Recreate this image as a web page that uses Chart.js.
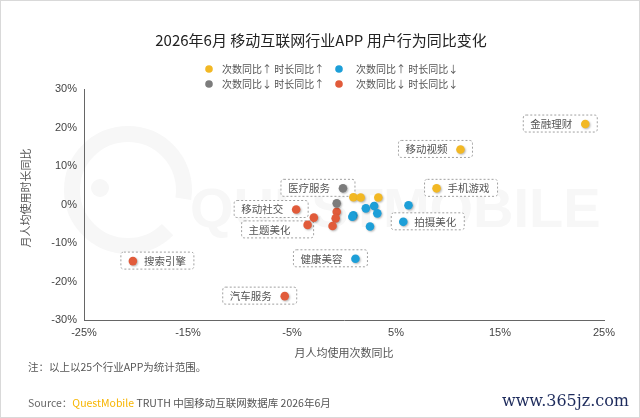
<!DOCTYPE html>
<html>
<head>
<meta charset="utf-8">
<script src="https://cdn.jsdelivr.net/npm/chart.js@4.4.1/dist/chart.umd.min.js"></script>
<style>
  html, body { margin: 0; padding: 0; background: #fff; }
  #wrap { position: relative; width: 640px; height: 418px; }
  canvas { display: block; }
</style>
</head>
<body>
<div id="wrap"><canvas id="c" width="640" height="418"></canvas></div>
<script>
// industry names, YoY change of monthly sessions per user (x) and time per user (y), in %
const names = ['金融理财', '移动视频', '手机游戏', '', '', '',
  '医疗服务', '',
  '', '', '', '', '主题美化', '移动社交', '搜索引擎', '汽车服务',
  '健康美容', '拍摄美化', '', '', '', '', '', '', ''];
const xValues = [23.2, 11.2, 8.9, 0.9, 1.6, 3.3,
  -0.1, -0.7,
  -0.7, -0.8, -1.1, -2.9, -3.5, -4.6, -20.3, -5.7,
  1.1, 5.7, 6.2, 2.1, 2.9, 3.2, 2.5, 0.9, 0.8];
const yValues = [20.9, 14.3, 4.2, 1.9, 1.8, 1.8,
  4.2, 0.3,
  -1.9, -3.6, -5.6, -3.4, -5.3, -1.3, -14.7, -23.8,
  -14.1, -4.5, -0.2, -1.0, -0.4, -2.3, -5.7, -2.8, -3.2];
// 0: 次↑时↑, 1: 次↑时↓, 2: 次↓时↑, 3: 次↓时↓
const groups = [0, 0, 0, 0, 0, 0,
  2, 2,
  3, 3, 3, 3, 3, 3, 3, 3,
  1, 1, 1, 1, 1, 1, 1, 1, 1];
const groupLabels = ['次数同比↑ 时长同比↑', '次数同比↑ 时长同比↓', '次数同比↓ 时长同比↑', '次数同比↓ 时长同比↓'];
const xTicks = [-25, -15, -5, 5, 15, 25];
const yTicks = [-30, -20, -10, 0, 10, 20, 30];

const colors = ['#F2B824', '#1D9FD8', '#7C7C7C', '#E15B3A'];
const CJK = "'Noto Sans CJK SC', 'Noto Sans', sans-serif";

// where the dashed name box sits relative to its dot
const calloutSide = {
  '金融理财': 'textLeft', '移动视频': 'textLeft', '医疗服务': 'textLeft', '移动社交': 'textLeft',
  '汽车服务': 'textLeft', '健康美容': 'textLeft', '主题美化': 'textLeftLow',
  '手机游戏': 'dotLeft', '拍摄美化': 'dotLeft', '搜索引擎': 'dotLeft'
};

const datasets = groupLabels.map((lab, g) => ({
  label: lab,
  data: names.map((n, i) => ({ x: xValues[i], y: yValues[i], name: n, g: groups[i] }))
    .filter(p => p.g === g),
  backgroundColor: colors[g],
  borderWidth: 0,
  pointRadius: 4.3,
  pointHoverRadius: 4.3
}));

function roundBox(ctx, l, t, w, h, r) {
  ctx.beginPath();
  ctx.moveTo(l + r, t);
  ctx.lineTo(l + w - r, t);
  ctx.quadraticCurveTo(l + w, t, l + w, t + r);
  ctx.lineTo(l + w, t + h - r);
  ctx.quadraticCurveTo(l + w, t + h, l + w - r, t + h);
  ctx.lineTo(l + r, t + h);
  ctx.quadraticCurveTo(l, t + h, l, t + h - r);
  ctx.lineTo(l, t + r);
  ctx.quadraticCurveTo(l, t, l + r, t);
  ctx.closePath();
}

const decor = {
  id: 'decor',
  beforeDraw(chart) {
    const ctx = chart.ctx;
    ctx.save();
    ctx.fillStyle = '#fff';
    ctx.fillRect(0, 0, 640, 418);
    ctx.strokeStyle = '#d9d9d9';
    ctx.lineWidth = 1;
    ctx.strokeRect(0.5, 0.5, 639, 417);
    // faint watermark
    ctx.strokeStyle = '#f7f7f7';
    ctx.lineWidth = 16;
    ctx.beginPath();
    ctx.arc(128, 190, 56, 0.25 * Math.PI, 2.05 * Math.PI);
    ctx.stroke();
    ctx.fillStyle = '#f7f7f7';
    ctx.beginPath();
    ctx.arc(100, 188, 9, 0, Math.PI * 2);
    ctx.fill();
    ctx.font = "bold 56px 'Liberation Sans', sans-serif";
    ctx.textBaseline = 'middle';
    ctx.fillText('QUESTMOBILE', 190, 212);
    ctx.restore();
  },
  beforeDatasetsDraw(chart) {
    const ctx = chart.ctx;
    ctx.save();
    ctx.font = '10.5px ' + CJK;
    ctx.textBaseline = 'middle';
    chart.data.datasets.forEach((ds, di) => {
      const meta = chart.getDatasetMeta(di);
      ds.data.forEach((p, j) => {
        const side = calloutSide[p.name];
        if (!side) return;
        const el = meta.data[j];
        let l, r, t, b, tx;
        if (side === 'textLeft') { l = el.x - 62; r = el.x + 12; t = el.y - 9; b = el.y + 8; tx = l + 7; }
        else if (side === 'textLeftLow') { l = el.x - 66; r = el.x + 6; t = el.y - 4; b = el.y + 13; tx = l + 7; }
        else { l = el.x - 12; r = el.x + 61; t = el.y - 9; b = el.y + 8; tx = el.x + 11; }
        ctx.fillStyle = '#fff';
        roundBox(ctx, l, t, r - l, b - t, 3);
        ctx.fill();
        ctx.setLineDash([2, 2]);
        ctx.strokeStyle = '#a0a0a0';
        ctx.lineWidth = 1;
        ctx.stroke();
        ctx.setLineDash([]);
        ctx.fillStyle = '#555';
        ctx.fillText(p.name, tx, (t + b) / 2 + 0.5);
      });
    });
    ctx.restore();
  },
  beforeDatasetDraw(chart) {
    const ctx = chart.ctx;
    ctx.save();
    ctx.shadowColor = 'rgba(0,0,0,0.28)';
    ctx.shadowBlur = 2;
    ctx.shadowOffsetX = 1;
    ctx.shadowOffsetY = 1;
  },
  afterDatasetDraw(chart) {
    chart.ctx.restore();
  },
  afterDraw(chart) {
    const ctx = chart.ctx;
    ctx.save();
    // title
    ctx.fillStyle = '#222';
    ctx.font = '15px ' + CJK;
    ctx.textAlign = 'center';
    ctx.textBaseline = 'middle';
    ctx.fillText('2026年6月 移动互联网行业APP 用户行为同比变化', 321, 40);

    // legend
    ctx.textAlign = 'left';
    ctx.font = '10px ' + CJK;
    const legPos = [[209, 69], [339, 69], [209, 84], [339, 84]];
    groupLabels.forEach((lab, g) => {
      const [lx, ly] = legPos[g];
      ctx.fillStyle = colors[g];
      ctx.beginPath();
      ctx.arc(lx, ly, 3.8, 0, Math.PI * 2);
      ctx.fill();
      ctx.fillStyle = '#555';
      ctx.fillText(lab, lx + (g % 2 ? 17 : 13), ly + 0.5);
    });

    // axis titles
    ctx.font = '11px ' + CJK;
    ctx.fillStyle = '#555';
    ctx.textAlign = 'center';
    ctx.fillText('月人均使用次数同比', 344, 353);
    ctx.save();
    ctx.translate(26, 198);
    ctx.rotate(-Math.PI / 2);
    ctx.fillText('月人均使用时长同比', 0, 0);
    ctx.restore();

    // footer
    ctx.textAlign = 'left';
    ctx.font = '10.5px ' + CJK;
    ctx.fillStyle = '#555';
    ctx.fillText('注：以上以25个行业APP为统计范围。', 28, 367);
    let sx = 28;
    const parts = [['Source：', '#666'], ['QuestMobile', '#F7B500'], [' TRUTH 中国移动互联网数据库 2026年6月', '#555']];
    parts.forEach(([txt, col]) => {
      ctx.fillStyle = col;
      ctx.fillText(txt, sx, 403);
      sx += ctx.measureText(txt).width;
    });
    ctx.font = "16px 'DejaVu Serif', serif";
    ctx.fillStyle = '#1d2b5c';
    ctx.textAlign = 'right';
    ctx.fillText('www.365jz.com', 629, 402);
    ctx.restore();
  }
};

Chart.defaults.font.family = CJK;

new Chart(document.getElementById('c'), {
  type: 'scatter',
  data: { datasets },
  options: {
    responsive: false,
    animation: false,
    events: [],
    layout: { padding: { top: 89, right: 36, left: 0, bottom: 0 } },
    plugins: { legend: { display: false }, tooltip: { enabled: false } },
    scales: {
      x: {
        type: 'linear', min: -25, max: 25,
        afterBuildTicks: axis => { axis.ticks = xTicks.map(v => ({ value: v })); },
        afterFit: axis => { axis.height = 98; },
        grid: { display: false, drawTicks: false },
        border: { display: true, color: '#666', width: 1 },
        ticks: {
          padding: 6, color: '#444', maxRotation: 0, autoSkip: false,
          font: { size: 11, family: "'Liberation Sans', Arial, sans-serif" },
          callback: v => v + '%'
        }
      },
      y: {
        type: 'linear', min: -30, max: 30,
        afterBuildTicks: axis => { axis.ticks = yTicks.map(v => ({ value: v })); },
        afterFit: axis => { axis.width = 84; },
        grid: { display: false, drawTicks: false },
        border: { display: true, color: '#666', width: 1 },
        ticks: {
          padding: 7, color: '#444', autoSkip: false,
          font: { size: 11, family: "'Liberation Sans', Arial, sans-serif" },
          callback: v => v + '%'
        }
      }
    }
  },
  plugins: [decor]
});
</script>
</body>
</html>
